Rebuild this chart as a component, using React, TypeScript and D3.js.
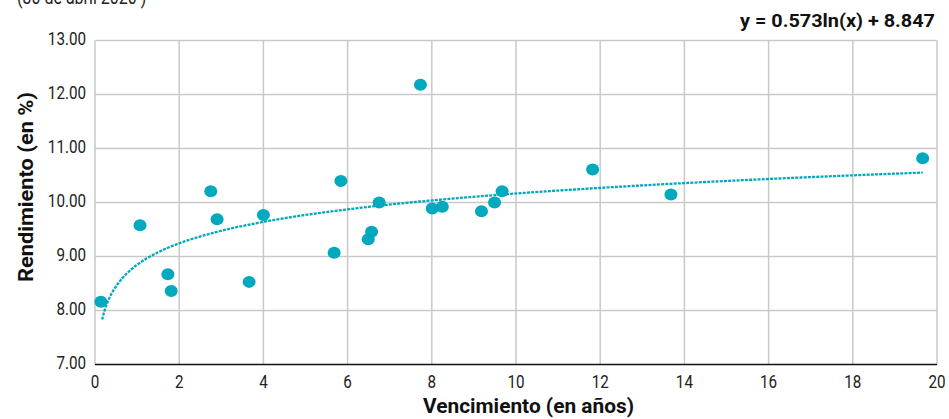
import React from 'react';
import * as d3 from 'd3';

// vencimiento (años) y rendimiento (%) de cada bono
const maturities = [0.14, 1.07, 1.73, 1.81, 2.75, 2.9, 3.66, 4.0, 5.68, 5.84, 6.49, 6.57, 6.75, 7.73, 8.01, 8.25, 9.18, 9.49, 9.67, 11.82, 13.68, 19.66];
const yields = [8.16, 9.58, 8.67, 8.36, 10.21, 9.69, 8.53, 9.77, 9.07, 10.4, 9.32, 9.46, 10.0, 12.18, 9.89, 9.92, 9.84, 10.0, 10.21, 10.61, 10.15, 10.82];

const xTicks = [0, 2, 4, 6, 8, 10, 12, 14, 16, 18, 20];
const yTicks = [7, 8, 9, 10, 11, 12, 13];

// tendencia logarítmica publicada: y = 0.573ln(x) + 8.847
const trendA = 0.573;
const trendB = 8.847;
const trendLabel = 'y = 0.573ln(x) + 8.847';

const subtitle = '(30 de abril 2020 )';
const xTitle = 'Vencimiento (en años)';
const yTitle = 'Rendimiento (en %)';

const width = 949;
const height = 419;
const margin = { top: 40.5, right: 12, bottom: 54.5, left: 95 };

const teal = '#00a9bd';
const grid = '#c9c9c9';
const font = 'Roboto, "DejaVu Sans Condensed", sans-serif';
const squeeze = 0.8;

// texto estrechado a mano, la fuente original es condensada
function Narrow({ x, y, anchor = 'start', size = 19, weight = 'normal', fill = '#222', children }) {
  return (
    <text transform={`translate(${x}, ${y}) scale(${squeeze}, 1)`} textAnchor={anchor}
      fontFamily={font} fontSize={size} fontWeight={weight} fill={fill}>
      {children}
    </text>
  );
}

export default function App() {
  const x = d3.scaleLinear().domain([0, 20]).range([margin.left, width - margin.right]);
  const y = d3.scaleLinear().domain([7, 13]).range([height - margin.bottom, margin.top]);

  const xMin = d3.min(maturities) + 0.03;
  const xMax = d3.max(maturities);
  const trendPts = d3.range(0, 301).map(i => {
    const t = xMin * Math.pow(xMax / xMin, i / 300);
    return [t, trendA * Math.log(t) + trendB];
  });
  const line = d3.line()
    .x(d => x(d[0]))
    .y(d => y(d[1]))
    .curve(d3.curveMonotoneX);

  return (
    <svg width={width} height={height} style={{ display: 'block', position: 'absolute', left: 0, top: 0 }}>
      <rect width={width} height={height} fill="#fff" />

      <Narrow x={17} y={4} size={20}>{subtitle}</Narrow>

      <text x={935} y={27} textAnchor="end" fontFamily={font} fontWeight="bold" fontSize={19} fill="#111"
        textLength={195} lengthAdjust="spacingAndGlyphs">
        {trendLabel}
      </text>

      {/* rejilla */}
      {xTicks.map(t => (
        <line key={'gx' + t} x1={x(t)} x2={x(t)} y1={y(13)} y2={y(7)} stroke={grid} strokeWidth={1.5} />
      ))}
      {yTicks.filter(t => t > 7).map(t => (
        <line key={'gy' + t} x1={x(0)} x2={x(20)} y1={y(t)} y2={y(t)} stroke={grid} strokeWidth={1.5} />
      ))}
      <line x1={x(0)} x2={x(20)} y1={y(7)} y2={y(7)} stroke="#111" strokeWidth={1.5} />

      {/* etiquetas de ejes */}
      {yTicks.map(t => (
        <Narrow key={'ly' + t} x={86} y={y(t) + 4.5} anchor="end">{t.toFixed(2)}</Narrow>
      ))}
      {xTicks.map(t => (
        <Narrow key={'lx' + t} x={x(t)} y={388} anchor="middle">{t}</Narrow>
      ))}

      <text x={528.5} y={413} textAnchor="middle" fontFamily={font} fontWeight="bold" fontSize={20} fill="#111"
        textLength={211} lengthAdjust="spacingAndGlyphs">
        {xTitle}
      </text>
      <text transform="translate(33, 187) rotate(-90)" textAnchor="middle"
        fontFamily={font} fontWeight="bold" fontSize={20} fill="#111"
        textLength={190} lengthAdjust="spacingAndGlyphs">
        {yTitle}
      </text>

      {/* puntos */}
      {maturities.map((m, i) => (
        <ellipse key={i} cx={x(m)} cy={y(yields[i])} rx={6.5} ry={6} fill={teal} />
      ))}

      {/* tendencia */}
      <path d={line(trendPts)} fill="none" stroke={teal} strokeWidth={2.3} strokeDasharray="3 1.2" />
    </svg>
  );
}
